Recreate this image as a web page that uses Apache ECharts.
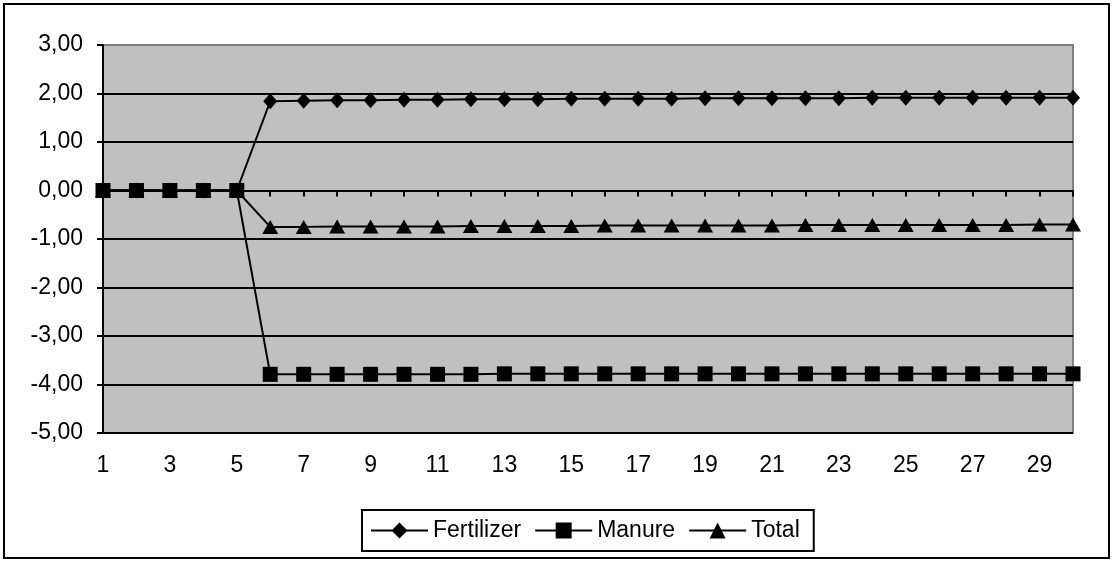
<!DOCTYPE html>
<html>
<head>
<meta charset="utf-8">
<script src="https://cdn.jsdelivr.net/npm/echarts@6/dist/echarts.min.js"></script>
<style>
html,body{margin:0;padding:0;background:#fff;}
#c{width:1114px;height:562px;}
</style>
</head>
<body>
<div id="c"></div>
<script>
const categories = ['1','2','3','4','5','6','7','8','9','10','11','12','13','14','15','16','17','18','19','20','21','22','23','24','25','26','27','28','29','30'];
const fertilizer = [0,0,0,0,0,1.84,1.85,1.86,1.86,1.87,1.87,1.88,1.88,1.88,1.89,1.89,1.89,1.89,1.90,1.90,1.90,1.90,1.90,1.91,1.91,1.91,1.91,1.91,1.91,1.91];
const manure = [0,0,0,0,0,-3.79,-3.79,-3.79,-3.79,-3.79,-3.79,-3.79,-3.78,-3.78,-3.78,-3.78,-3.78,-3.78,-3.78,-3.78,-3.78,-3.78,-3.78,-3.78,-3.78,-3.78,-3.78,-3.78,-3.78,-3.78];
const total = [0,0,0,0,0,-0.75,-0.75,-0.74,-0.74,-0.74,-0.74,-0.73,-0.73,-0.73,-0.73,-0.72,-0.72,-0.72,-0.72,-0.72,-0.72,-0.71,-0.71,-0.71,-0.71,-0.71,-0.71,-0.71,-0.70,-0.70];
const seriesNames = ['Fertilizer','Manure','Total'];

const FONT = 'Arial, "Liberation Sans", sans-serif';
const chart = echarts.init(document.getElementById('c'), null, {renderer:'canvas'});
const splitColors = ['#000','#000','#000','#000','#000','#000','#000','#000','#808080'];
function ser(name, data, symbol, size){
  return {
    name, type:'line', data, symbol, symbolSize:size,
    showAllSymbol:true,
    lineStyle:{color:'#000',width:2},
    itemStyle:{color:'#000'},
    emphasis:{disabled:true},
    animation:false
  };
}
chart.setOption({
  animation:false,
  backgroundColor:'#fff',
  graphic:[{type:'rect',shape:{x:4,y:4,width:1105,height:554},style:{fill:null,stroke:'#000',lineWidth:2},silent:true}],
  grid:{left:103,right:41,top:45,bottom:129,show:true,backgroundColor:'#C0C0C0',borderColor:'#808080',borderWidth:2},
  legend:{
    data:seriesNames,
    bottom:11,left:362,
    borderColor:'#000',borderWidth:2,padding:[9,14,9,8],
    itemGap:13,itemWidth:57,itemHeight:20,
    textStyle:{fontFamily:FONT,fontSize:23,color:'#000'},
    selectedMode:false
  },
  xAxis:{
    type:'category',data:categories,boundaryGap:false,
    axisLine:{lineStyle:{color:'#000',width:2}},
    axisTick:{interval:0,length:6,lineStyle:{color:'#000',width:2}},
    axisLabel:{interval:1,margin:21,fontFamily:FONT,fontSize:23,color:'#000'},
    splitLine:{show:false}
  },
  yAxis:{
    type:'value',min:-5,max:3,interval:1,
    axisLine:{show:true,lineStyle:{color:'#000',width:2}},
    axisTick:{show:true,length:6,lineStyle:{color:'#000',width:2}},
    axisLabel:{margin:20,fontFamily:FONT,fontSize:23,color:'#000',formatter:v=>v.toFixed(2).replace('.',',')},
    splitLine:{show:true,lineStyle:{color:splitColors,width:2}}
  },
  series:[
    ser('Fertilizer',fertilizer,'diamond',[14,16]),
    ser('Manure',manure,'rect',15),
    ser('Total',total,'triangle',[16,14])
  ]
});
</script>
</body>
</html>
